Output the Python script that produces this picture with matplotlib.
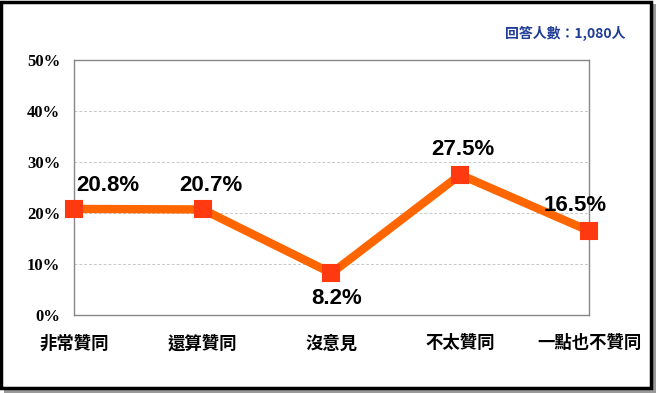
import matplotlib
matplotlib.use('Agg')
import matplotlib.pyplot as plt
from matplotlib.patches import Rectangle
from matplotlib.ticker import FuncFormatter

plt.rcParams['font.family'] = ['Noto Sans CJK TC', 'DejaVu Sans']

# data
categories = ['非常贊同', '還算贊同', '沒意見', '不太贊同', '一點也不贊同']
values = [20.8, 20.7, 8.2, 27.5, 16.5]
label_offsets = [(24, 17), (6, 17), (4, -18), (2, 18), (-10, 18)]
y_ticks = [0, 10, 20, 30, 40, 50]
note = '回答人數：1,080人'

fig = plt.figure(figsize=(6.56, 3.93), dpi=100)
fig.patch.set_facecolor('white')

# frame with shadow
fig.patches.append(Rectangle((0.006, 0.0), 0.994, 0.99, transform=fig.transFigure,
                             facecolor='#9a9a9a', edgecolor='none', zorder=-3))
fig.patches.append(Rectangle((0.002, 0.012), 0.99, 0.984, transform=fig.transFigure,
                             facecolor='white', edgecolor='black', linewidth=2.5, zorder=-2))

ax = fig.add_axes([0.1128, 0.1985, 0.785, 0.6488])
ax.set_facecolor('white')
x = list(range(len(categories)))
ax.plot(x, values, color='#FF6600', linewidth=6, solid_capstyle='round', zorder=3,
        clip_on=False)
ax.plot(x, values, linestyle='none', marker='s', markersize=12,
        markerfacecolor='#FF3A10', markeredgecolor='#FF3A10', markeredgewidth=1.5,
        zorder=4, clip_on=False)

for xi, v, off in zip(x, values, label_offsets):
    ax.annotate('%.1f%%' % v, (xi, v), xytext=off, textcoords='offset points',
                ha='center', va='center', fontsize=16, fontweight='bold',
                family=['Liberation Sans', 'DejaVu Sans'], color='black', zorder=5,
                annotation_clip=False)

ax.set_xlim(0, len(categories) - 1)
ax.set_ylim(0, 50)
ax.set_yticks(y_ticks)
ax.yaxis.set_major_formatter(FuncFormatter(lambda v, p: '%d%%' % v))
ax.set_xticks(x)
ax.set_xticklabels(categories, fontsize=12.5, fontweight='bold')
ax.tick_params(axis='x', length=0, pad=14)
ax.tick_params(axis='y', length=0, pad=10)
for lab in ax.get_yticklabels():
    lab.set_family(['Liberation Serif', 'DejaVu Serif'])
    lab.set_fontweight('bold')
    lab.set_fontsize(12)
ax.grid(axis='y', color='#c8c8c8', linestyle=(0, (3, 2)), linewidth=0.7)
ax.set_axisbelow(True)
for s in ax.spines.values():
    s.set_color('#888888')
    s.set_linewidth(1)

fig.text(0.953, 0.915, note, ha='right', va='center', fontsize=10, fontweight='bold',
         color='#1F3C96')

fig.savefig('out.png', dpi=100)
